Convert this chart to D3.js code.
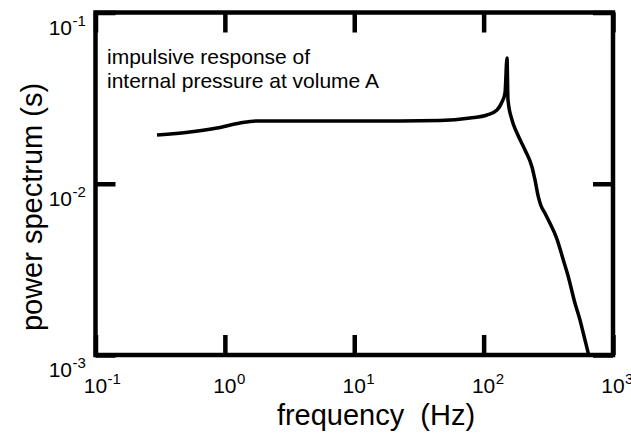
<html>
<script src='https://d3js.org/d3.v7.min.js'></script>
<style>
body {margin:0; background:#fff;}
text {font-family: "Liberation Sans", Arial, sans-serif; fill:#000; white-space: pre;}
</style>
<body>
<svg id="chart" width=631 height=437></svg>
<script>
// curve: frequency (Hz) and power spectrum (s)
var freq = [0.299, 0.537, 0.869, 1.309, 1.771, 3.81, 22.57, 46.0, 78.5, 106.2, 126.9, 138.7, 146.3, 151.6,
	154.3, 165.7, 181.1, 208.9, 236.5, 249.5, 264.7, 276.2, 298.1, 325.8, 367.1, 413.0, 451.3, 508.5, 555.8, 589.5, 644.4];
var power = [0.01926, 0.02006, 0.02116, 0.02263, 0.02325, 0.02325, 0.02325, 0.0234, 0.0242, 0.0252, 0.02696, 0.03003, 0.03388, 0.0542,
	0.03084, 0.02357, 0.01978, 0.01574, 0.01253, 0.01052, 0.008402, 0.00751, 0.006722, 0.005877, 0.004803, 0.003587, 0.002866, 0.002004, 0.001601, 0.001339, 0.001023];

var xTicks = [0.1, 1, 10, 100, 1000];
var yTicks = [0.001, 0.01, 0.1];
var xTitle = "frequency  (Hz)";
var yTitle = "power spectrum (s)";
var note = ["impulsive response of", "internal pressure at volume A"];

var pLeft = 95.5, pRight = 613, pTop = 12.5, pBottom = 355;
var svg = d3.select("#chart");

var x = d3.scaleLog().domain([0.1, 1000]).range([pLeft, pRight]);
var y = d3.scaleLog().domain([0.001, 0.1]).range([pBottom, pTop]);

// inward ticks on all four sides
function styleAxis(g) {
	g.select(".domain").remove();
	g.selectAll("line").attr("stroke", "#000").attr("stroke-width", 4.5);
	g.selectAll("text").remove();
}
svg.append("g").attr("transform", "translate(0," + pBottom + ")")
	.call(d3.axisBottom(x).tickValues(xTicks).tickSize(-20).tickFormat("")).call(styleAxis);
svg.append("g").attr("transform", "translate(0," + pTop + ")")
	.call(d3.axisTop(x).tickValues(xTicks).tickSize(-20).tickFormat("")).call(styleAxis);
svg.append("g").attr("transform", "translate(" + pLeft + ",0)")
	.call(d3.axisLeft(y).tickValues(yTicks).tickSize(-20).tickFormat("")).call(styleAxis);
svg.append("g").attr("transform", "translate(" + pRight + ",0)")
	.call(d3.axisRight(y).tickValues(yTicks).tickSize(-20).tickFormat("")).call(styleAxis);

svg.append("rect").attr("x", pLeft).attr("y", pTop).attr("width", pRight - pLeft).attr("height", pBottom - pTop)
	.attr("fill", "none").attr("stroke", "#000").attr("stroke-width", 4.5);

svg.append("clipPath").attr("id", "clip").append("rect")
	.attr("x", pLeft).attr("y", pTop).attr("width", pRight - pLeft).attr("height", pBottom - pTop);

var pts = freq.map((f, i) => [f, power[i]]);
var line = d3.line().x(d => x(d[0])).y(d => y(d[1])).curve(d3.curveMonotoneX);
svg.append("path").datum(pts).attr("d", line).attr("clip-path", "url(#clip)")
	.attr("fill", "none").attr("stroke", "#000").attr("stroke-width", 3.5).attr("stroke-linejoin", "round");

// tick labels with superscript exponents
xTicks.forEach(function(t) {
	var e = Math.round(Math.log10(t));
	svg.append("text").attr("x", x(t)).attr("y", 393).attr("text-anchor", "middle").style("font-size", "21px").text("10");
	svg.append("text").attr("x", x(t) + 12).attr("y", 384).style("font-size", "15px").text(e);
});
yTicks.forEach(function(t) {
	var e = Math.round(Math.log10(t));
	svg.append("text").attr("x", 72).attr("y", y(t) + 22).attr("text-anchor", "end").style("font-size", "21px").text("10");
	svg.append("text").attr("x", 72.5).attr("y", y(t) + 13).style("font-size", "15px").text(e);
});

svg.append("text").attr("x", 376).attr("y", 425).attr("text-anchor", "middle").style("font-size", "29px").text(xTitle);
svg.append("text").attr("transform", "translate(42,207) rotate(-90)").attr("text-anchor", "middle").style("font-size", "29px").text(yTitle);

svg.selectAll(".note").data(note).enter().append("text")
	.attr("x", 107).attr("y", (d, i) => 64 + i * 23.5).style("font-size", "21px").text(d => d);
</script>
</body>
</html>
